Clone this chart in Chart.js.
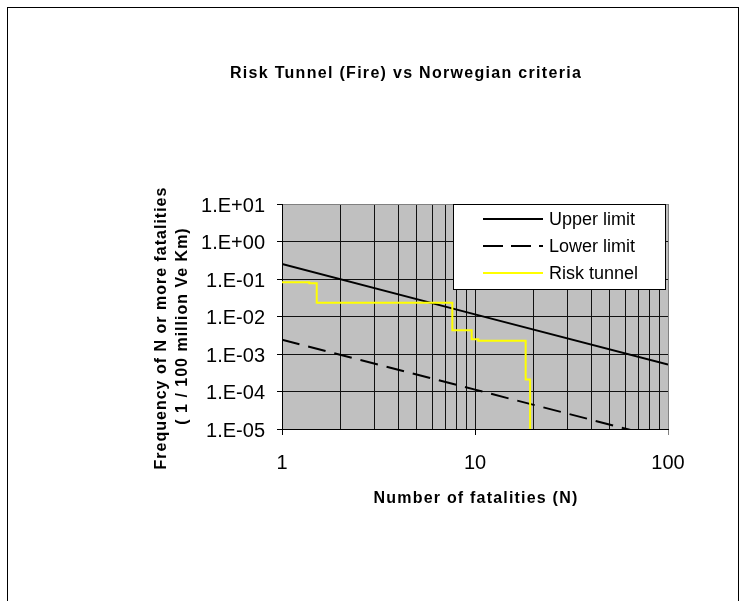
<!DOCTYPE html>
<html>
<head>
<meta charset="utf-8">
<title>Risk Tunnel (Fire) vs Norwegian criteria</title>
<script src="https://cdn.jsdelivr.net/npm/chart.js@4.4.1/dist/chart.umd.min.js"></script>
<style>
  html, body { margin: 0; padding: 0; background: #ffffff; }
  canvas { display: block; }
</style>
</head>
<body>
<canvas id="fn" width="746" height="601"></canvas>
<script>
// F-N curve: number of fatalities N against frequency of N or more fatalities
const limitN = [1, 10, 100];
const upperF = [0.25, 0.0114, 5.2e-4];
const lowerF = [2.4e-3, 1.12e-4, 5.2e-6];

// Tunnel fire risk as a step curve (each value holds from its N to the next N)
const riskN = [1, 1.385, 1.513, 7.63, 9.61, 10.4, 18.3, 19.3];
const riskF = [0.0816, 0.0767, 0.0233, 4.3e-3, 2.46e-3, 2.26e-3, 2.1e-4, 1e-6];

// Axis ticks
const xGrid = [1, 2, 3, 4, 5, 6, 7, 8, 9, 10, 20, 30, 40, 50, 60, 70, 80, 90, 100];
const xLabels = [1, 10, 100];
const yTicks = [1e-5, 1e-4, 1e-3, 1e-2, 1e-1, 1, 10];

// Texts
const titleText = 'Risk Tunnel (Fire) vs Norwegian criteria';
const xTitle = 'Number of fatalities (N)';
const yTitle = ['Frequency of N or more fatalities', '( 1 / 100 million Ve Km)'];
const seriesNames = ['Upper limit', 'Lower limit', 'Risk tunnel'];

const FONT = '"Liberation Sans", Arial, Helvetica, sans-serif';

const toPoints = (xs, ys) => xs.map((x, i) => ({ x: x, y: ys[i] }));

// Excel-style scientific label: 1.E+01, 1.E-03 ...
function sciLabel(v) {
  const e = Math.round(Math.log10(v));
  const sign = e < 0 ? '-' : '+';
  const a = Math.abs(e);
  return '1.E' + sign + (a < 10 ? '0' + a : String(a));
}

function spacedText(ctx, text, x, y, font, spacing, align) {
  ctx.save();
  ctx.font = font;
  ctx.fillStyle = '#000000';
  ctx.textAlign = align;
  ctx.textBaseline = 'alphabetic';
  if ('letterSpacing' in ctx) ctx.letterSpacing = spacing + 'px';
  ctx.fillText(text, x, y);
  if ('letterSpacing' in ctx) ctx.letterSpacing = '0px';
  ctx.restore();
}

// Grey plot area and outer frame
const backdrop = {
  id: 'backdrop',
  beforeDraw(chart) {
    const { ctx, chartArea: a } = chart;
    ctx.save();
    ctx.fillStyle = '#ffffff';
    ctx.fillRect(0, 0, chart.width, chart.height);
    ctx.strokeStyle = '#000000';
    ctx.lineWidth = 1;
    ctx.strokeRect(7.5, 7.5, 731, 700);
    ctx.fillStyle = '#c0c0c0';
    ctx.fillRect(a.left, a.top, a.right - a.left, a.bottom - a.top);
    ctx.restore();
  }
};

// Titles and the boxed legend
const annotations = {
  id: 'annotations',
  afterDraw(chart) {
    const ctx = chart.ctx;
    spacedText(ctx, titleText, 406, 78, 'bold 16px ' + FONT, 1.3, 'center');
    spacedText(ctx, xTitle, 476, 503, 'bold 16px ' + FONT, 1.2, 'center');

    ctx.save();
    ctx.translate(166, 328);
    ctx.rotate(-Math.PI / 2);
    spacedText(ctx, yTitle[0], 0, 0, 'bold 16px ' + FONT, 1.0, 'center');
    ctx.restore();
    ctx.save();
    ctx.translate(187, 326);
    ctx.rotate(-Math.PI / 2);
    spacedText(ctx, yTitle[1], 0, 0, 'bold 16px ' + FONT, 1.0, 'center');
    ctx.restore();

    // legend box
    ctx.save();
    ctx.fillStyle = '#ffffff';
    ctx.fillRect(453.5, 204.5, 212, 85);
    ctx.strokeStyle = '#000000';
    ctx.lineWidth = 1;
    ctx.strokeRect(453.5, 204.5, 212, 85);
    const order = [1, 2, 0];
    order.forEach((di, row) => {
      const ds = chart.data.datasets[di];
      const y = 219 + 27 * row;
      ctx.beginPath();
      ctx.strokeStyle = ds.borderColor;
      ctx.lineWidth = ds.borderWidth;
      ctx.setLineDash(ds.borderDash ? [20, 8] : []);
      ctx.moveTo(483, y);
      ctx.lineTo(543, y);
      ctx.stroke();
      ctx.setLineDash([]);
      ctx.fillStyle = '#000000';
      ctx.font = '18px ' + FONT;
      ctx.textAlign = 'left';
      ctx.textBaseline = 'middle';
      ctx.fillText(ds.label, 549, y + 1);
    });
    ctx.restore();
  }
};

new Chart(document.getElementById('fn'), {
  type: 'scatter',
  data: {
    datasets: [
      {
        label: seriesNames[2],
        data: toPoints(riskN, riskF),
        showLine: true,
        stepped: 'before',
        borderColor: '#ffff00',
        borderWidth: 2,
        pointRadius: 0,
        order: 0
      },
      {
        label: seriesNames[0],
        data: toPoints(limitN, upperF),
        showLine: true,
        borderColor: '#000000',
        borderWidth: 2,
        pointRadius: 0,
        order: 1
      },
      {
        label: seriesNames[1],
        data: toPoints(limitN, lowerF),
        showLine: true,
        borderColor: '#000000',
        borderWidth: 2,
        borderDash: [18, 9],
        pointRadius: 0,
        order: 2
      }
    ]
  },
  options: {
    responsive: false,
    animation: false,
    events: [],
    devicePixelRatio: 1,
    layout: { padding: { top: 204, right: 78, bottom: 0, left: 0 } },
    plugins: {
      legend: { display: false },
      tooltip: { enabled: false },
      title: { display: false }
    },
    scales: {
      x: {
        type: 'logarithmic',
        position: 'bottom',
        min: 1,
        max: 100,
        afterBuildTicks(scale) {
          scale.ticks = xGrid.map(v => ({ value: v, major: xLabels.includes(v) }));
        },
        afterFit(scale) { scale.height = 172; },
        ticks: {
          autoSkip: false,
          maxRotation: 0,
          padding: 16,
          color: '#000000',
          font: { family: FONT, size: 20 },
          callback: v => (xLabels.includes(v) ? String(v) : '')
        },
        grid: {
          color: c => (c.tick && c.tick.value === 100 ? '#808080' : '#111111'),
          lineWidth: 1,
          drawTicks: true,
          tickLength: 6,
          tickColor: c => {
            if (!c.tick || !xLabels.includes(c.tick.value)) return 'rgba(0,0,0,0)';
            return c.tick.value === 100 ? '#808080' : '#000000';
          }
        },
        border: { display: true, color: '#000000', width: 1 }
      },
      y: {
        type: 'logarithmic',
        position: 'left',
        min: 1e-5,
        max: 10,
        afterBuildTicks(scale) {
          scale.ticks = yTicks.map(v => ({ value: v }));
        },
        afterFit(scale) { scale.width = 282; },
        ticks: {
          autoSkip: false,
          padding: 12,
          labelOffset: 2,
          color: '#000000',
          font: { family: FONT, size: 20 },
          callback: v => sciLabel(v)
        },
        grid: {
          color: c => (c.tick && c.tick.value === 10 ? '#808080' : '#111111'),
          lineWidth: 1,
          drawTicks: true,
          tickLength: 5,
          tickColor: '#000000'
        },
        border: { display: true, color: '#000000', width: 1 }
      }
    }
  },
  plugins: [backdrop, annotations]
});
</script>
</body>
</html>
